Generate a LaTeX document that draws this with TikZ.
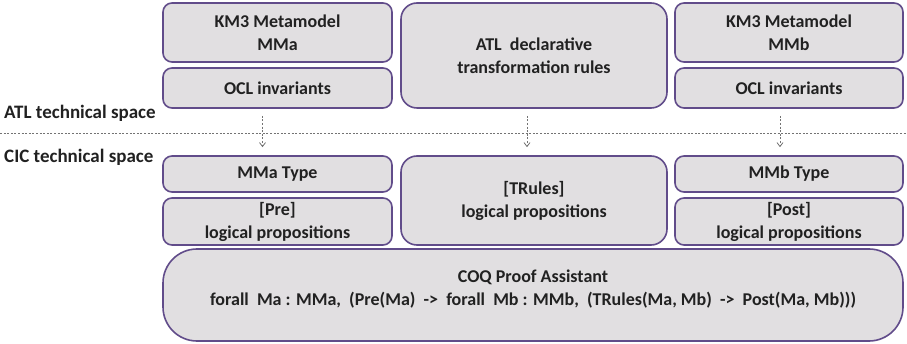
\documentclass[tikz,border=0pt]{standalone}
\usepackage{fontspec}
\setmainfont{Carlito}
\usetikzlibrary{arrows.meta,calc}
\definecolor{BoxFill}{rgb}{0.882,0.875,0.882}
\definecolor{BoxLine}{rgb}{0.38,0.30,0.54}
\definecolor{TxtClr}{rgb}{0.13,0.13,0.13}
\definecolor{SepClr}{rgb}{0.45,0.45,0.45}

\begin{document}
\begin{tikzpicture}[x=1pt,y=-1pt,
  font=\fontsize{18}{23}\selectfont\bfseries,
  part/.style={draw=BoxLine,line width=1.6pt,fill=BoxFill,text=TxtClr,
    rounded corners=9pt,align=center,inner sep=0pt},
  space/.style={text=TxtClr,anchor=west,inner sep=0pt,font=\fontsize{19}{23}\selectfont\bfseries},
  link/.style={draw=SepClr,line width=0.9pt,dash pattern=on 2pt off 1.6pt,
    -{Straight Barb[length=4pt,width=6pt,line width=0.8pt]},shorten <=7pt,shorten >=8pt}]
\useasboundingbox (0,0) rectangle (907,344);

% ATL technical space
\node[part,minimum width=229pt,minimum height=59pt] (mmA) at (277.5,32.5) {KM3 Metamodel\\MMa};
\node[part,minimum width=229pt,minimum height=40pt] (oclA) at (277.5,88) {OCL invariants};
\node[part,rounded corners=16pt,minimum width=266pt,minimum height=105pt] (atl) at (534,55.5) {ATL\ \ declarative\\transformation rules};
\node[part,minimum width=228pt,minimum height=59pt] (mmB) at (789,32.5) {KM3 Metamodel\\MMb};
\node[part,minimum width=228pt,minimum height=40pt] (oclB) at (789,88) {OCL invariants};

% CIC technical space
\node[part,minimum width=229pt,minimum height=36pt] (typeA) at (277.5,174) {MMa Type};
\node[part,minimum width=229pt,minimum height=47pt] (pre) at (277.5,221.5) {[Pre]\\logical propositions};
\node[part,rounded corners=16pt,minimum width=266pt,minimum height=89pt] (trules) at (534,200.5) {[TRules]\\logical propositions};
\node[part,minimum width=228pt,minimum height=36pt] (typeB) at (789,174) {MMb Type};
\node[part,minimum width=228pt,minimum height=47pt] (post) at (789,221.5) {[Post]\\logical propositions};
\node[part,rounded corners=34pt,minimum width=740pt,minimum height=92pt] (coq) at (533,295) {};
\node[text=TxtClr,align=center,inner sep=0pt] (coqTxt) at ([yshift=6pt]coq.center)
  {COQ Proof Assistant\\forall\ \ Ma : MMa,\ \ (Pre(Ma)\ \ ->\ \ forall\ \ Mb : MMb,\ \ (TRules(Ma, Mb)\ \ ->\ \ Post(Ma, Mb)))};

\node[space] (atlLbl) at (4,113) {ATL technical space};
\node[space] (cicLbl) at (4,157) {CIC technical space};

\coordinate (sepL) at (0,133);
\coordinate (sepR) at (907,133);
\draw[draw=SepClr,line width=0.9pt,dash pattern=on 2pt off 1.6pt] (sepL) -- (sepR);

\draw[link] ([xshift=-15pt]oclA.south) -- ([xshift=-15pt]typeA.north);
\draw[link] ([xshift=-7pt]atl.south) -- ([xshift=-7pt]trules.north);
\draw[link] ([xshift=-9pt]oclB.south) -- ([xshift=-9pt]typeB.north);
\end{tikzpicture}
\end{document}
